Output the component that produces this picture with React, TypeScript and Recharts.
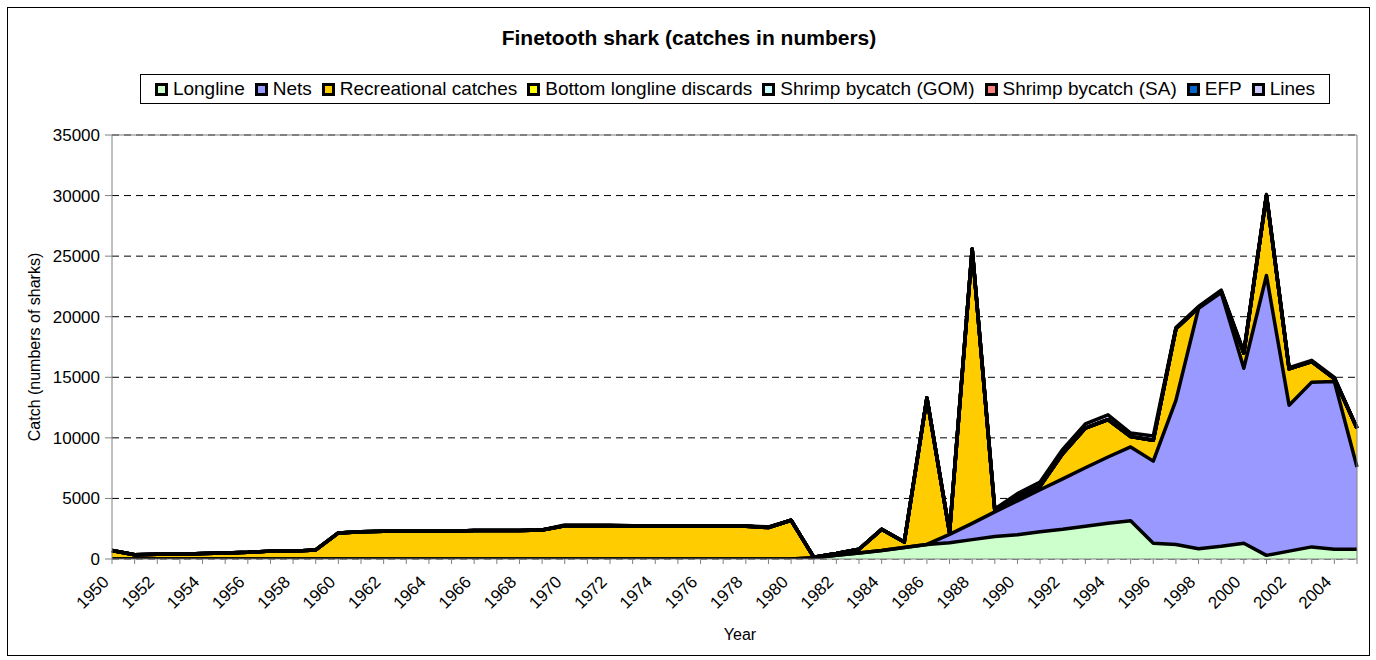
import React from 'react';
import { AreaChart, Area, XAxis, YAxis, CartesianGrid, ReferenceLine } from 'recharts';

const years = [
  1950, 1951, 1952, 1953, 1954, 1955, 1956, 1957, 1958, 1959,
  1960, 1961, 1962, 1963, 1964, 1965, 1966, 1967, 1968, 1969,
  1970, 1971, 1972, 1973, 1974, 1975, 1976, 1977, 1978, 1979,
  1980, 1981, 1982, 1983, 1984, 1985, 1986, 1987, 1988, 1989,
  1990, 1991, 1992, 1993, 1994, 1995, 1996, 1997, 1998, 1999,
  2000, 2001, 2002, 2003, 2004, 2005,
];

const longline = [
  0, 0, 0, 0, 0, 0, 0, 0, 0, 0,
  0, 0, 0, 0, 0, 0, 0, 0, 0, 0,
  0, 0, 0, 0, 0, 0, 0, 0, 0, 0,
  0, 100, 300, 500, 700, 950, 1200, 1350, 1600, 1850,
  2000, 2250, 2450, 2700, 2950, 3150, 1300, 1200, 850, 1050,
  1300, 300, 650, 1000, 800, 800,
];

const nets = [
  0, 0, 0, 0, 0, 0, 0, 0, 0, 0,
  0, 0, 0, 0, 0, 0, 0, 0, 0, 0,
  0, 0, 0, 0, 0, 0, 0, 0, 0, 0,
  0, 0, 0, 0, 0, 0, 0, 680, 1340, 2040,
  2800, 3470, 4160, 4830, 5470, 6100, 6780, 11900, 19850, 20950,
  14450, 23100, 12050, 13600, 13850, 6800,
];

const recreational = [
  700, 350, 400, 400, 450, 500, 550, 650, 650, 750,
  2150, 2250, 2300, 2300, 2300, 2300, 2350, 2350, 2350, 2400,
  2750, 2750, 2750, 2700, 2700, 2700, 2700, 2700, 2700, 2600,
  3200, 50, 150, 300, 1750, 450, 12100, 150, 22650, 100,
  300, 280, 2090, 3270, 3080, 850, 1720, 5900, 50, 100,
  1250, 6600, 3000, 1700, 250, 3200,
];

const bottomDiscards = [
  0, 0, 0, 0, 0, 0, 0, 0, 0, 0,
  0, 0, 0, 0, 0, 0, 0, 0, 0, 0,
  0, 0, 0, 0, 0, 0, 0, 0, 0, 0,
  0, 0, 0, 0, 0, 0, 0, 0, 0, 0,
  0, 0, 0, 0, 0, 0, 0, 0, 0, 0,
  0, 0, 0, 0, 0, 0,
];

const shrimpGom = [
  0, 0, 0, 0, 0, 0, 0, 0, 0, 0,
  0, 0, 0, 0, 0, 0, 0, 0, 0, 0,
  0, 0, 0, 0, 0, 0, 0, 0, 0, 0,
  0, 0, 0, 0, 0, 0, 0, 0, 0, 0,
  0, 0, 0, 0, 0, 0, 0, 0, 0, 0,
  0, 0, 0, 0, 0, 0,
];

const shrimpSa = [
  0, 0, 0, 0, 0, 0, 0, 0, 0, 0,
  0, 0, 0, 0, 0, 0, 0, 0, 0, 0,
  0, 0, 0, 0, 0, 0, 0, 0, 0, 0,
  0, 0, 0, 0, 0, 0, 0, 0, 0, 0,
  0, 0, 0, 0, 0, 0, 0, 0, 0, 0,
  0, 0, 0, 0, 0, 0,
];

const efp = [
  0, 0, 0, 0, 0, 0, 0, 0, 0, 0,
  0, 0, 0, 0, 0, 0, 0, 0, 0, 0,
  0, 0, 0, 0, 0, 0, 0, 0, 0, 0,
  0, 0, 0, 0, 0, 0, 0, 0, 0, 0,
  0, 0, 0, 0, 0, 0, 0, 0, 0, 0,
  0, 0, 0, 0, 0, 0,
];

const lines = [
  0, 0, 0, 0, 0, 0, 0, 0, 0, 0,
  0, 0, 0, 0, 0, 0, 0, 0, 0, 0,
  50, 50, 50, 50, 50, 50, 50, 50, 50, 50,
  0, 0, 0, 0, 0, 0, 0, 0, 0, 150,
  300, 350, 350, 350, 400, 300, 350, 100, 100, 100,
  100, 100, 100, 100, 100, 0,
];

const yTicks = [0, 5000, 10000, 15000, 20000, 25000, 30000, 35000];

const seriesNames = [
  'Longline',
  'Nets',
  'Recreational catches',
  'Bottom longline discards',
  'Shrimp bycatch (GOM)',
  'Shrimp bycatch (SA)',
  'EFP',
  'Lines',
];
const seriesValues = [longline, nets, recreational, bottomDiscards, shrimpGom, shrimpSa, efp, lines];
const seriesColors = ['#CCFFCC', '#9999FF', '#FFCC00', '#FFFF00', '#CCFFFF', '#FF8080', '#0066CC', '#CCCCFF'];
const seriesKeys = ['s0', 's1', 's2', 's3', 's4', 's5', 's6', 's7'];

const data = years.map((year, i) => {
  const row: Record<string, number> = { year };
  seriesKeys.forEach((k, j) => {
    row[k] = seriesValues[j][i];
  });
  return row;
});

const FONT = '"Liberation Sans", Arial, sans-serif';

const XTick = (props: any) => {
  const { x, y, payload } = props;
  if (Number(payload.value) % 2 !== 0) return null;
  const ax = x - 2;
  const ay = y + 17;
  return (
    <text
      x={ax}
      y={ay}
      transform={`rotate(-45, ${ax}, ${ay})`}
      textAnchor="end"
      fontSize={17}
      fontFamily={FONT}
      fill="#000"
    >
      {payload.value}
    </text>
  );
};

export default function App() {
  return (
    <div style={{ position: 'absolute', left: 0, top: 0, width: 1376, height: 660, background: '#fff', fontFamily: FONT }}>
      <div
        style={{
          position: 'absolute',
          left: 7,
          top: 7,
          width: 1361,
          height: 647,
          border: '1px solid #000',
        }}
      />
      <div
        style={{
          position: 'absolute',
          left: 0,
          top: 26,
          width: 1378,
          textAlign: 'center',
          fontWeight: 'bold',
          fontSize: 21,
          color: '#000',
        }}
      >
        Finetooth shark (catches in numbers)
      </div>
      <div
        style={{
          position: 'absolute',
          left: 140,
          top: 74,
          width: 1188,
          height: 28,
          border: '1px solid #000',
          display: 'flex',
          alignItems: 'center',
          justifyContent: 'center',
          gap: 10,
          fontSize: 19,
          color: '#000',
          whiteSpace: 'nowrap',
        }}
      >
        {seriesNames.map((name, i) => (
          <div key={name} style={{ display: 'flex', alignItems: 'center', gap: 5 }}>
            <div
              style={{
                width: 7,
                height: 7,
                border: '3px solid #000',
                background: seriesColors[i],
              }}
            />
            <span>{name}</span>
          </div>
        ))}
      </div>
      <div
        style={{
          position: 'absolute',
          left: 35 - 150,
          top: 347 - 10,
          width: 300,
          height: 20,
          textAlign: 'center',
          fontSize: 16,
          lineHeight: '20px',
          transform: 'rotate(-90deg)',
          color: '#000',
        }}
      >
        Catch (numbers of sharks)
      </div>
      <div
        style={{
          position: 'absolute',
          left: 740 - 50,
          top: 626,
          width: 100,
          textAlign: 'center',
          fontSize: 16,
          color: '#000',
        }}
      >
        Year
      </div>
      <div style={{ position: 'absolute', left: 0, top: 0 }}>
        <AreaChart
          width={1376}
          height={660}
          data={data}
          margin={{ top: 135, right: 19, bottom: 41, left: 52 }}
        >
          <CartesianGrid
            vertical={false}
            stroke="#000"
            strokeDasharray="7 5"
          />
          <XAxis
            dataKey="year"
            interval={0}
            tick={<XTick />}
            tickSize={5}
            stroke="#808080"
            height={60}
          />
          <YAxis
            width={60}
            domain={[0, 35000]}
            ticks={yTicks}
            tickSize={7}
            tickMargin={5}
            stroke="#808080"
            tick={{ fill: '#000', fontSize: 17, fontFamily: FONT }}
            allowDataOverflow
          />
          {seriesKeys.map((k, j) => (
            <Area
              key={'fill-' + k}
              type="linear"
              dataKey={k}
              name={seriesNames[j]}
              stackId="fills"
              stroke="none"
              fill={seriesColors[j]}
              fillOpacity={1}
              isAnimationActive={false}
              dot={false}
              activeDot={false}
            />
          ))}
          {seriesKeys.map((k, j) => (
            <Area
              key={'line-' + k}
              type="linear"
              dataKey={k}
              name={seriesNames[j] + ' outline'}
              stackId="outlines"
              stroke="#000"
              strokeWidth={3.5}
              strokeLinejoin="round"
              fill="none"
              isAnimationActive={false}
              dot={false}
              activeDot={false}
              legendType="none"
            />
          ))}
          <ReferenceLine y={35000} stroke="#808080" strokeWidth={1} />
          <ReferenceLine x={2005} stroke="#808080" strokeWidth={1} />
        </AreaChart>
      </div>
    </div>
  );
}
